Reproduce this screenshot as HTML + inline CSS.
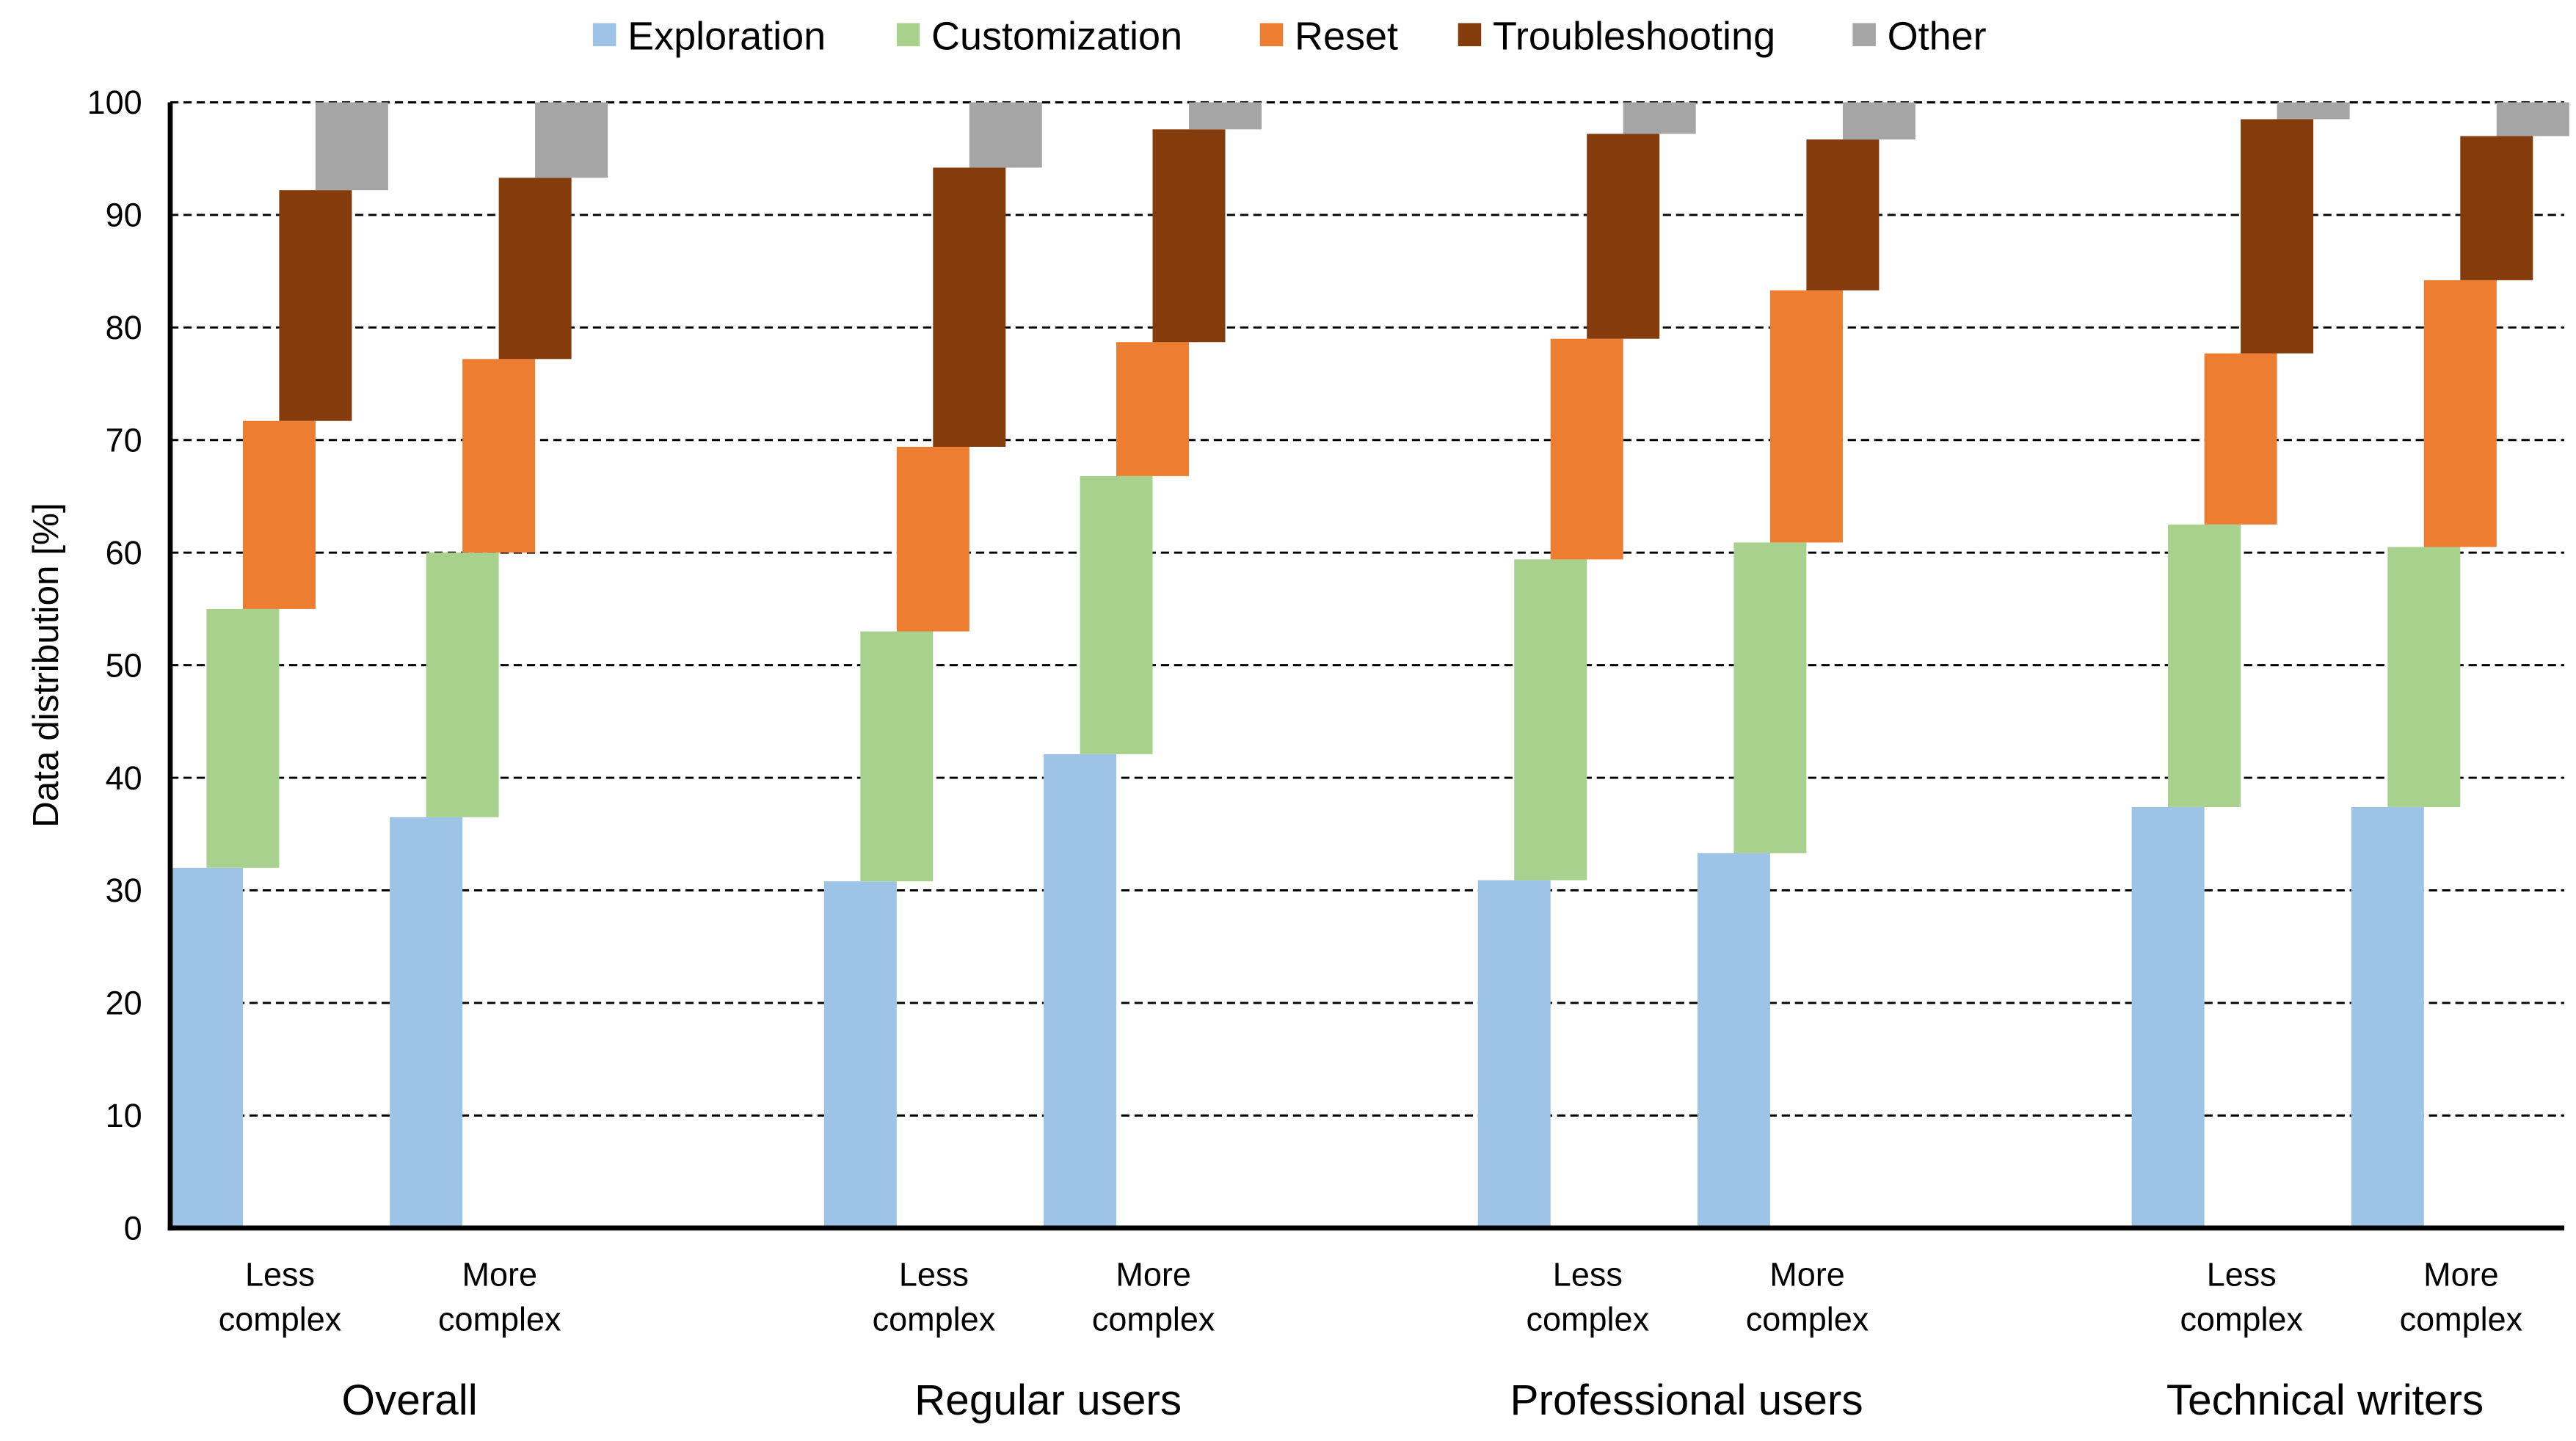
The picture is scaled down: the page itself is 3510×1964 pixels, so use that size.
<!DOCTYPE html>
<html><head><meta charset="utf-8"><style>
html,body{margin:0;padding:0;background:#fff;}
svg{display:block;font-family:"Liberation Sans",Arial,sans-serif;}
</style></head><body>
<svg id="chart" width="3510" height="1964" viewBox="0 0 1560 873" xmlns="http://www.w3.org/2000/svg">
<g id="grid"></g>
<g id="bars"></g>
<g id="axes"></g>
<g id="legend"></g>
</svg>
<script>
const groups = ["Overall","Regular users","Professional users","Technical writers"];
const subcats = ["Less complex","More complex"];
const seriesNames = ["Exploration","Customization","Reset","Troubleshooting","Other"];
const yTicks = [0,10,20,30,40,50,60,70,80,90,100];
const exploration = [32.0,36.5,30.8,42.1,30.9,33.3,37.4,37.4];
const customization = [23.0,23.5,22.2,24.7,28.5,27.6,25.1,23.1];
const reset = [16.7,17.2,16.4,11.9,19.6,22.4,15.2,23.7];
const troubleshooting = [20.5,16.1,24.8,18.9,18.2,13.4,20.8,12.8];
const other = [7.8,6.7,5.8,2.4,2.8,3.3,1.5,3.0];

const NS="http://www.w3.org/2000/svg";
const colors=["#9DC3E6","#A9D18E","#ED7D31","#843C0C","#A5A5A5"];
const series=[exploration,customization,reset,troubleshooting,other];
const y0=744, yTop=62, xL=103, xR=1553;
const yScale=v=>y0-(v/100)*(y0-yTop);
const groupX=g=>103+g*396;
const subX=(g,s)=>groupX(g)+s*133;
const bw=44, step=22;
function mk(tag,attrs,parent,text){const e=document.createElementNS(NS,tag);for(const k in attrs)e.setAttribute(k,attrs[k]);if(text!==undefined)e.textContent=text;parent.appendChild(e);return e;}

const grid=document.getElementById('grid');
yTicks.forEach(t=>{
  if(t>0){const l=mk('line',{x1:xL,x2:xR,y1:yScale(t),y2:yScale(t),stroke:'#000','stroke-width':1.3,'stroke-dasharray':'5,3'},grid);
  
  }
  const tx=mk('text',{x:86,y:yScale(t)+7,'text-anchor':'end','font-size':20,fill:'#000'},grid,String(t));
  
  
});

const bars=document.getElementById('bars');
for(let g=0;g<groups.length;g++){
  for(let s=0;s<subcats.length;s++){
    const i=g*2+s; let cum=0;
    for(let k=0;k<series.length;k++){
      const v=series[k][i];
      const x=subX(g,s)+k*step;
      const r=mk('rect',{x:x,y:yScale(cum+v),width:bw,height:yScale(cum)-yScale(cum+v),fill:colors[k]},bars);
      
      
      cum+=v;
    }
    const cx=subX(g,s)+66.5;
    const words=subcats[s].split(' ');
    const t1=mk('text',{x:cx,y:779,'text-anchor':'middle','font-size':20},bars,words[0]);
    
    
    const t2=mk('text',{x:cx,y:806,'text-anchor':'middle','font-size':20},bars,words[1]);
    
    
  }
  const gl=mk('text',{x:248+g*386.7,y:857,'text-anchor':'middle','font-size':26},bars,groups[g]);
  
  
}

const axes=document.getElementById('axes');
mk('line',{x1:xL,x2:xL,y1:yTop,y2:y0+1.5,stroke:'#000','stroke-width':3},axes);
mk('line',{x1:xL-1.5,x2:xR,y1:y0,y2:y0,stroke:'#000','stroke-width':3},axes);
const yt=mk('text',{x:0,y:0,'text-anchor':'middle','font-size':22,transform:'translate(35,403) rotate(-90)'},axes,'Data distribution [%]');



const legend=document.getElementById('legend');
const lx=[359,543,763,883,1122];
seriesNames.forEach((n,k)=>{
  const g=mk('g',{},legend);
  
  
  mk('rect',{x:lx[k],y:14,width:14,height:14,fill:colors[k]},g);
  mk('text',{x:lx[k]+21,y:30,'font-size':24},g,n);
});
</script>
</body></html>
